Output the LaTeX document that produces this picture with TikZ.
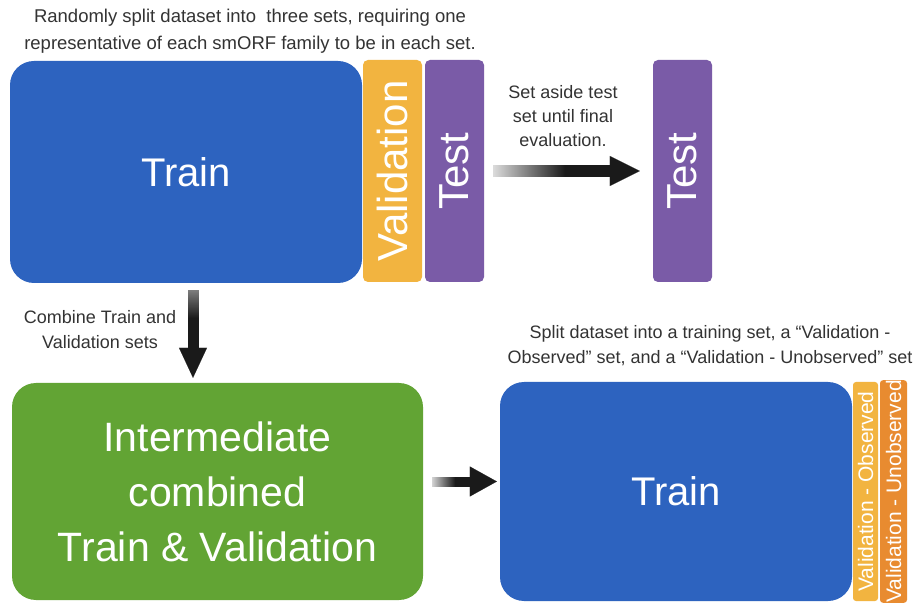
\documentclass[tikz,border=0pt]{standalone}
\usepackage{fontspec}
\usepackage{graphicx}
\setmainfont{Liberation Sans}
\usetikzlibrary{arrows.meta,fadings,calc}
\definecolor{cblue}{HTML}{2D63BF}
\definecolor{cyellow}{HTML}{F2B440}
\definecolor{cpurple}{HTML}{7A5BA7}
\definecolor{cgreen}{HTML}{62A434}
\definecolor{corange}{HTML}{E88B30}
\definecolor{textgray}{HTML}{333333}
\definecolor{arrowblack}{HTML}{1A1A1A}
\tikzfading[name=whiteoutE, left color=transparent!15, right color=transparent!100]
\tikzfading[name=whiteoutS, top color=transparent!55, bottom color=transparent!100]
\begin{document}
\begin{tikzpicture}[x=1pt,y=-1pt,
  bigbox/.style={rounded corners=24pt, inner sep=0pt, text=white, align=center,
    font=\fontsize{40}{55}\selectfont},
  bar/.style={rounded corners=5pt, inner sep=0pt, text=white,
    minimum width=59pt, minimum height=222pt, font=\fontsize{42}{46}\selectfont},
  thinbar/.style={rounded corners=3pt, inner sep=0pt, text=white,
    minimum height=219pt, font=\fontsize{21}{24}\selectfont},
  note/.style={text=textgray, align=center, inner sep=0pt},
  flow/.style={draw=arrowblack, line width=12pt,
    -{Triangle[length=30pt,width=30pt,line width=0.1pt]}},
  fadeover/.style={fill=white}]
\useasboundingbox (0,0) rectangle (914,604);
\fill[white] (0,0) rectangle (914,604);

% top row
\node[bigbox, fill=cblue, minimum width=352pt, minimum height=222pt] (train1) at (186,172) {Train};
\node[bar, fill=cyellow] (val1) at (392.5,171) {\rotatebox{90}{Validation}};
\node[bar, fill=cpurple] (test1) at (454.5,171) {\rotatebox{90}{Test}};
\node[bar, fill=cpurple] (test2) at (682.5,171) {\rotatebox{90}{Test}};

\node[note, font=\fontsize{18.5}{27}\selectfont] (top) at (250,31)
  {Randomly split dataset into\ \ three sets, requiring one\\representative of each smORF family to be in each set.};
\node[note, font=\fontsize{18}{24}\selectfont] (aside) at (563,116)
  {Set aside test\\set until final\\evaluation.};

% bottom row
\node[bigbox, fill=cgreen, minimum width=411pt, minimum height=217pt, font=\fontsize{41}{55}\selectfont] (green) at (217.5,491.5)
  {Intermediate\\combined\\Train \& Validation};
\node[bigbox, fill=cblue, minimum width=352pt, minimum height=219pt] (train2) at (676,491.5) {Train};
\node[thinbar, fill=cyellow, minimum width=25pt] (vo) at (865.5,491.5) {\rotatebox{90}{Validation - Observed}};
\node[thinbar, fill=corange, minimum width=27pt] (vu) at (893.5,491.5) {\rotatebox{90}{Validation - Unobserved}};

\node[note, font=\fontsize{18}{25}\selectfont] (combine) at (100,330)
  {Combine Train and\\Validation sets};
\node[note, font=\fontsize{18}{25}\selectfont] (split) at (710,346)
  {Split dataset into a training set, a “Validation -\\Observed” set, and a “Validation - Unobserved” set};

% connectors
\draw[flow, shorten <=9pt, shorten >=13pt] (test1.east) -- (test2.west);
\fill[fadeover, path fading=whiteoutE] (493,164) rectangle (565,180);

\coordinate (d1) at ([xshift=7pt]train1.south);
\draw[flow, line width=11pt, -{Triangle[length=30pt,width=28pt,line width=0.1pt]},
  shorten <=7pt, shorten >=5pt] (d1) -- (d1 |- green.north);
\fill[fadeover, path fading=whiteoutS] (186,289) rectangle (200,318);

\coordinate (r1) at ([yshift=10pt]green.east);
\draw[flow, line width=10pt, -{Triangle[length=27pt,width=30pt,line width=0.1pt]},
  shorten <=9pt, shorten >=3pt] (r1) -- (r1 -| train2.west);
\fill[fadeover, path fading=whiteoutE] (431,475) rectangle (455,488);
\end{tikzpicture}
\end{document}
